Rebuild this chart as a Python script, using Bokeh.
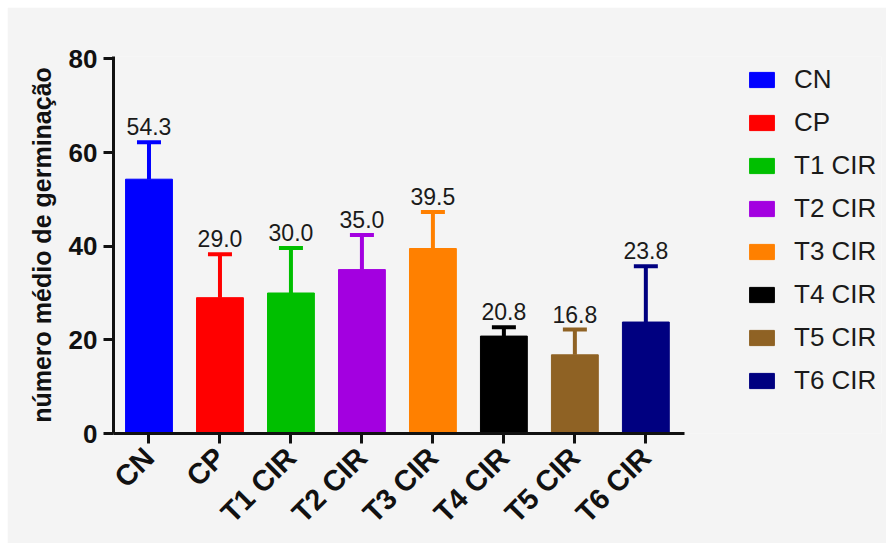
import math
from bokeh.plotting import figure
from bokeh.models import (Range1d, FixedTicker, Legend, LegendItem, ColumnDataSource)
from bokeh.core.properties import value
from bokeh.embed import file_html
from bokeh.resources import INLINE

categories = ["CN", "CP", "T1 CIR", "T2 CIR", "T3 CIR", "T4 CIR", "T5 CIR", "T6 CIR"]
means = [54.3, 29.0, 30.0, 35.0, 39.5, 20.8, 16.8, 23.8]
errors = [7.9, 9.3, 9.6, 7.4, 7.8, 1.9, 5.4, 11.9]
colors = ["#0000ff", "#ff0000", "#00bf00", "#a300e0", "#ff8000", "#000000", "#8f6224", "#000080"]
y_ticks = [0, 20, 40, 60, 80]

FONT = "Liberation Sans"
BG = "#f4f4f4"

xs = [i + 0.5 for i in range(len(categories))]
upper = [m + e for m, e in zip(means, errors)]
labels = ["%.1f" % m for m in means]

src = ColumnDataSource(dict(x=xs, cat=categories, mean=means, upper=upper,
                            color=colors, label=labels))

p = figure(width=879, height=536, output_backend="svg", toolbar_location=None,
           x_range=Range1d(0, 10.82), y_range=Range1d(0, 80.5),
           min_border_left=106, min_border_right=5, min_border_top=49,
           min_border_bottom=110, margin=(7, 0, 0, 7))
p.background_fill_color = BG
p.border_fill_color = BG
p.outline_line_color = None
p.grid.visible = False

bars = p.vbar(x="x", top="mean", width=0.66, color="color", source=src)
p.segment(x0="x", y0="mean", x1="x", y1="upper", line_color="color", line_width=4, source=src)
p.scatter(x="x", y="upper", marker="dash", size=24, line_color="color", line_width=4, source=src)
p.text(x="x", y="upper", text="label", y_offset=-7, text_align="center", text_baseline="bottom",
       text_font=value(FONT), text_font_size="23px", text_color="#1a1a1a", source=src)

# axes
xa = p.xaxis[0]
xa.ticker = FixedTicker(ticks=xs)
xa.major_label_overrides = {x: c for x, c in zip(xs, categories)}
xa.major_label_orientation = math.pi / 4
xa.minor_tick_line_color = None
xa.bounds = (0, 8.05)
ya = p.yaxis[0]
ya.ticker = FixedTicker(ticks=y_ticks)
ya.minor_tick_line_color = None
ya.axis_label = "número médio de germinação"
for ax in (xa, ya):
    ax.axis_line_width = 3
    ax.axis_line_color = "#111111"
    ax.major_tick_line_width = 3
    ax.major_tick_line_color = "#111111"
    ax.major_tick_in = 0
    ax.major_tick_out = 10
    ax.major_label_text_font = FONT
    ax.major_label_text_font_size = "26px"
    ax.major_label_text_font_style = "bold"
    ax.major_label_text_color = "#111111"
    ax.axis_label_text_font = FONT
    ax.axis_label_text_font_size = "25px"
    ax.axis_label_text_font_style = "bold"
    ax.axis_label_text_color = "#111111"
xa.major_label_text_font_size = "29px"
ya.major_label_standoff = 6
ya.axis_label_standoff = 10
xa.major_label_standoff = 9

items = []
for i, c in enumerate(categories):
    items.append(LegendItem(label=c, renderers=[bars], index=i))
legend = Legend(items=items, location=(633, 37), glyph_width=31, glyph_height=19,
                label_standoff=17, spacing=12, padding=0, margin=0,
                label_text_font=FONT, label_text_font_size="26px",
                label_text_color="#1a1a1a",
                border_line_color=None, background_fill_alpha=0)
p.add_layout(legend)

open("out.html", "w").write(file_html(p, INLINE))
